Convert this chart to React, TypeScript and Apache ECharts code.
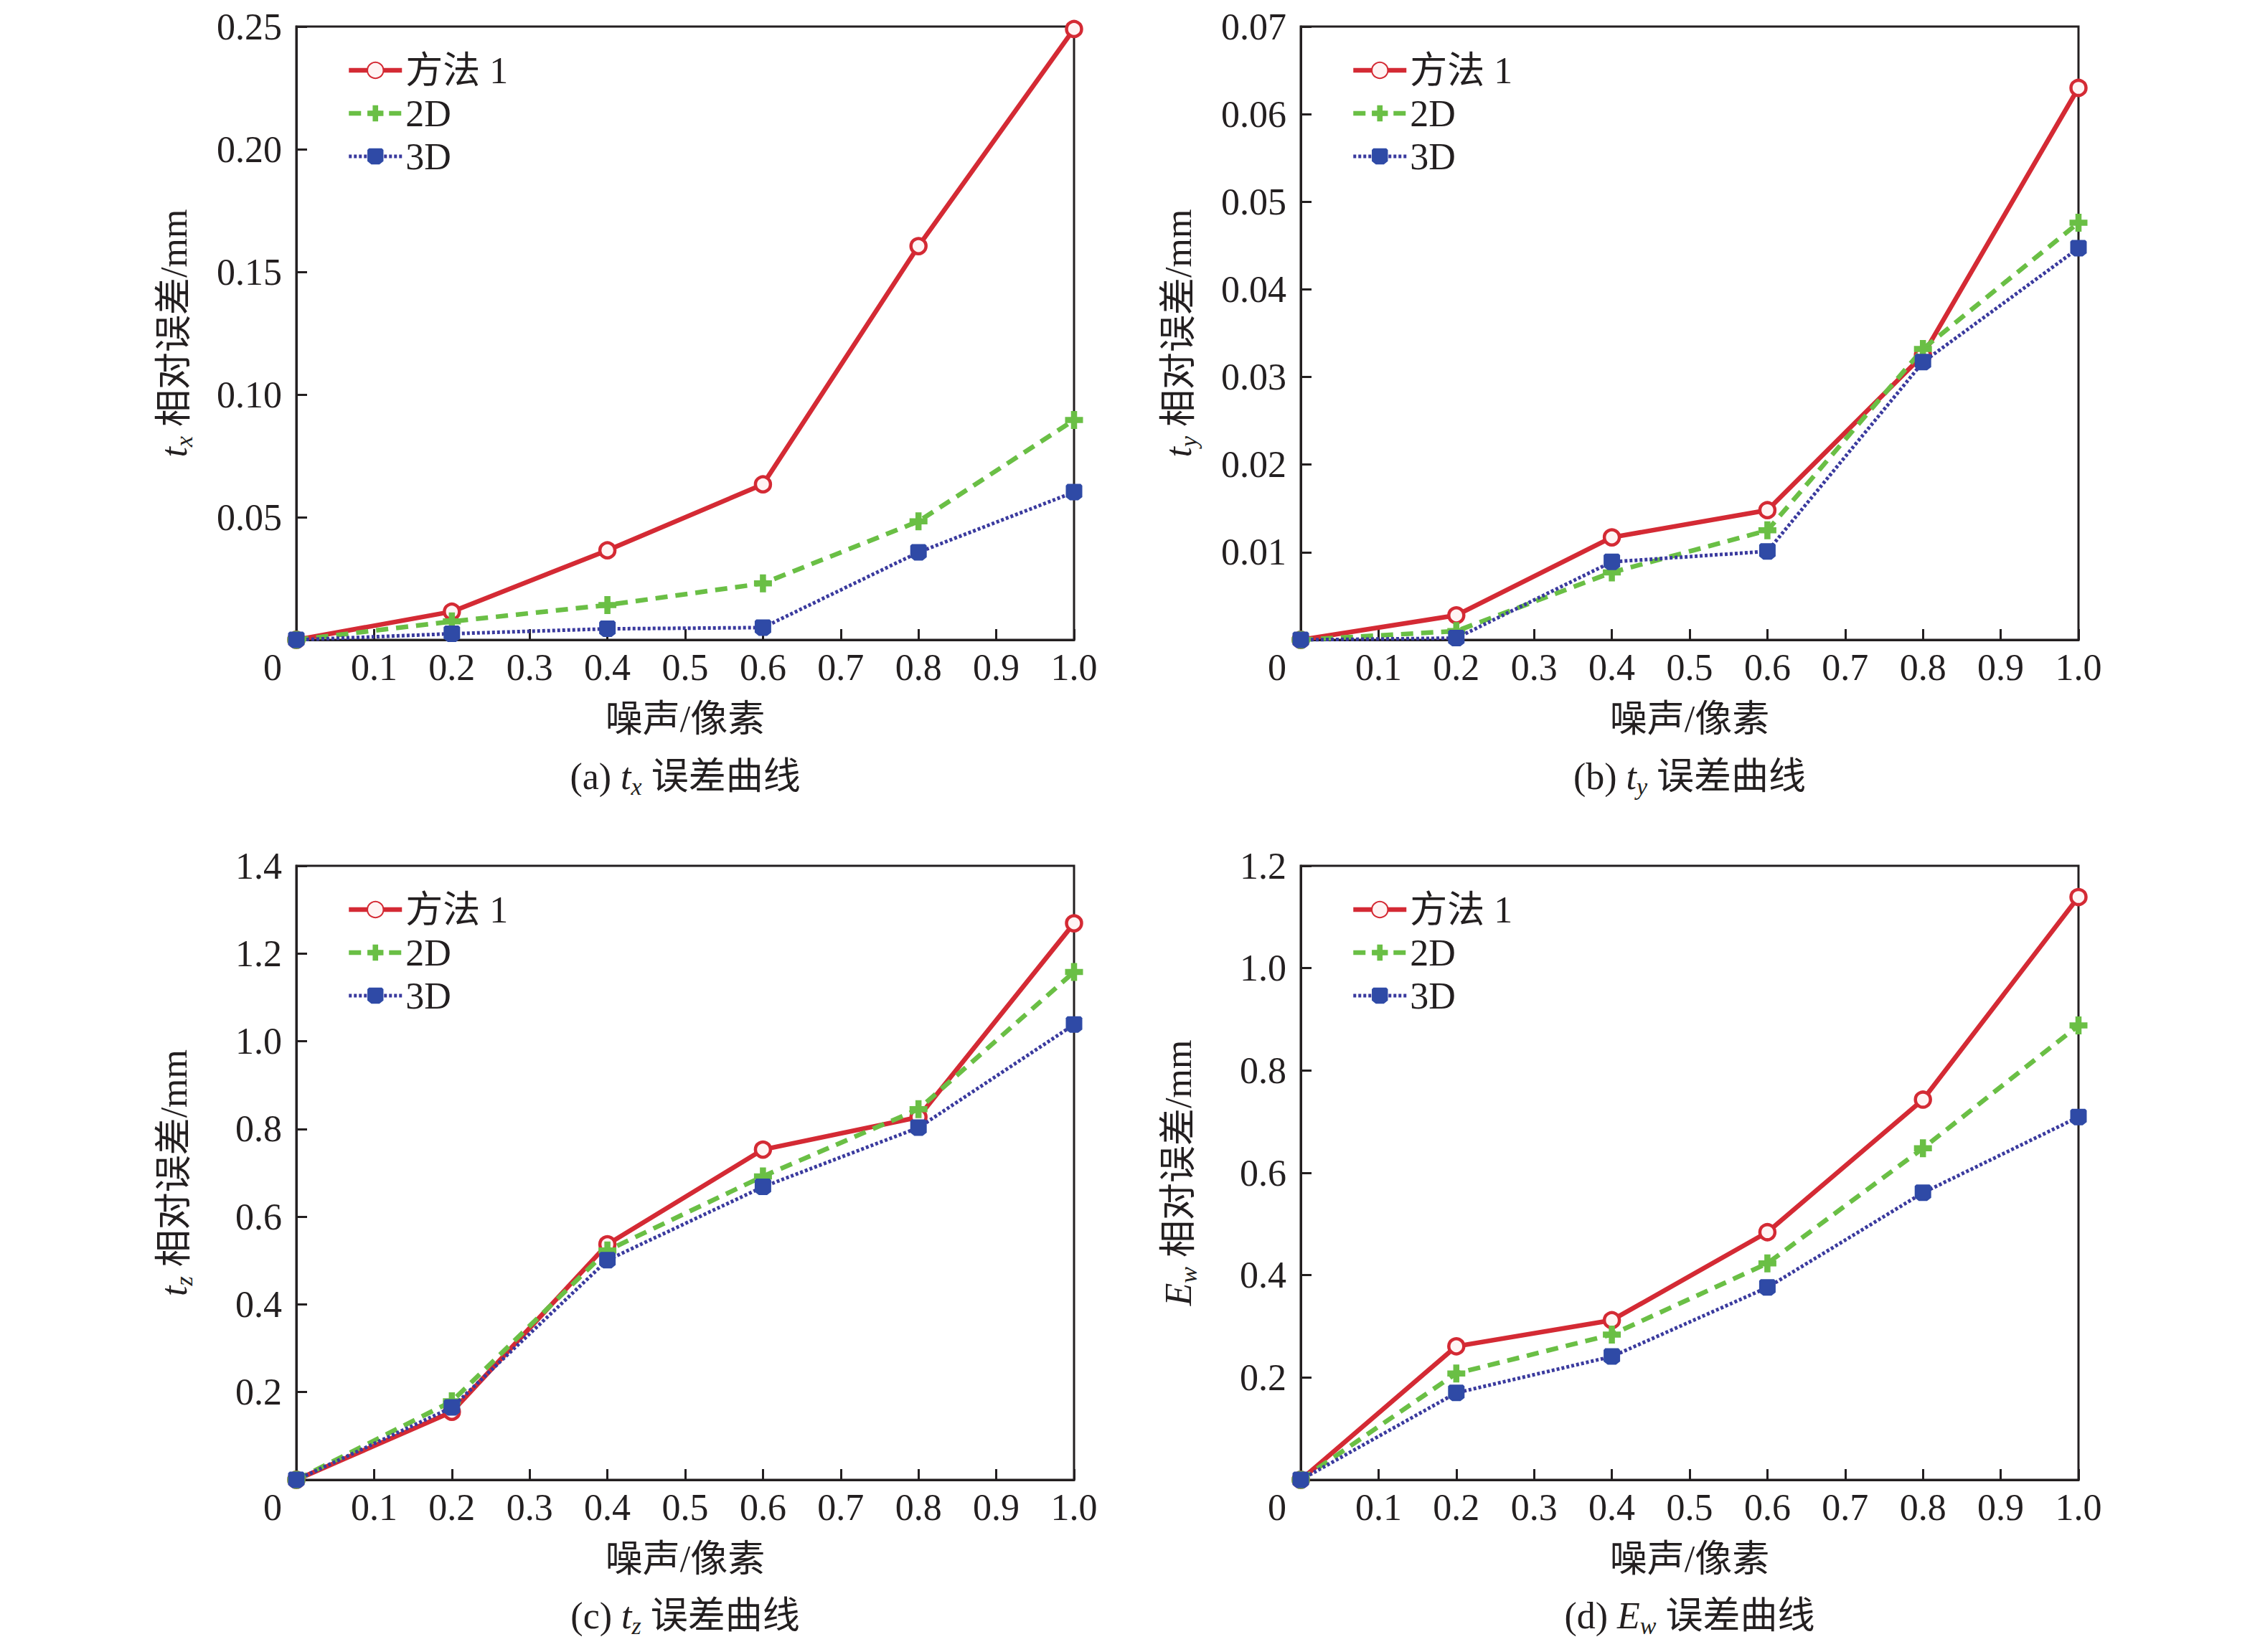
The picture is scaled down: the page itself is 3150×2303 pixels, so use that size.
import React, { useEffect, useRef } from "react";
import * as echarts from "echarts";

// ---- data ----
const xValues = [0, 0.2, 0.4, 0.6, 0.8, 1.0];
const seriesNames = ["方法 1", "2D", "3D"];

// (a) t_x
const txMethod1 = [0, 0.0115, 0.0365, 0.0634, 0.1605, 0.249];
const tx2D = [0, 0.0075, 0.0142, 0.023, 0.0483, 0.0896];
const tx3D = [0, 0.0025, 0.0045, 0.005, 0.0357, 0.0602];

// (b) t_y
const tyMethod1 = [0, 0.0028, 0.0117, 0.0148, 0.0325, 0.063];
const ty2D = [0, 0.001, 0.0077, 0.0125, 0.0332, 0.0476];
const ty3D = [0, 0.0002, 0.0089, 0.0101, 0.0317, 0.0447];

// (c) t_z
const tzMethod1 = [0, 0.155, 0.537, 0.753, 0.827, 1.269];
const tz2D = [0, 0.179, 0.523, 0.692, 0.845, 1.158];
const tz3D = [0, 0.165, 0.501, 0.668, 0.803, 1.038];

// (d) E_w
const ewMethod1 = [0, 0.261, 0.312, 0.484, 0.743, 1.139];
const ew2D = [0, 0.208, 0.284, 0.423, 0.648, 0.888];
const ew3D = [0, 0.17, 0.241, 0.376, 0.561, 0.709];

// axis ranges
const yMaxes = [0.25, 0.07, 1.4, 1.2];
const yIntervals = [0.05, 0.01, 0.2, 0.2];
const yDecimals = [2, 2, 1, 1];

// texts
const yAxisNames = [
  "{i|t}{s|x} 相对误差/mm",
  "{i|t}{s|y} 相对误差/mm",
  "{i|t}{s|z} 相对误差/mm",
  "{i|E}{s|w} 相对误差/mm",
];
const captions = [
  "(a) {i|t}{s|x} 误差曲线",
  "(b) {i|t}{s|y} 误差曲线",
  "(c) {i|t}{s|z} 误差曲线",
  "(d) {i|E}{s|w} 误差曲线",
];
const xAxisName = "噪声/像素";

const panelData = [
  [txMethod1, tx2D, tx3D],
  [tyMethod1, ty2D, ty3D],
  [tzMethod1, tz2D, tz3D],
  [ewMethod1, ew2D, ew3D],
];

// ---- styles / layout ----
const FONT = "'Liberation Serif','Times New Roman','Noto Sans CJK SC',serif";
const INK = "#231f20";
const FS = 52;
const grids = [
  { left: 413, top: 37, width: 1084, height: 855 },
  { left: 1813, top: 37, width: 1084, height: 855 },
  { left: 413, top: 1207, width: 1084, height: 856 },
  { left: 1813, top: 1207, width: 1084, height: 856 },
];

const RED = "#d42a34";
const GREEN = "#6abf45";
const BLUE = "#2f4aa6";
const BLUE_LINE = "#3a3a9e";

const PLUS = "path://M3.3,0 H6.7 V3.3 H10 V6.7 H6.7 V10 H3.3 V6.7 H0 V3.3 H3.3 Z";
const SQUARE = "path://M1,0 H9 L10,1 V8 L7.5,10 H2.5 L0,8 V1 Z";

const richSub = {
  i: { fontStyle: "italic", fontSize: FS, fontFamily: FONT, color: INK, lineHeight: 62 },
  s: {
    fontStyle: "italic",
    fontSize: 34,
    fontFamily: FONT,
    color: INK,
    verticalAlign: "bottom",
    lineHeight: 34,
  },
};

const lineStyles = [
  { color: RED, width: 6.5, type: "solid" },
  { color: GREEN, width: 6.5, type: [17, 11] },
  { color: BLUE_LINE, width: 5, type: [4, 3] },
];

function buildOption() {
  const grid: any[] = [];
  const xAxis: any[] = [];
  const yAxis: any[] = [];
  const series: any[] = [];
  const legend: any[] = [];
  const graphic: any[] = [];

  grids.forEach((g, p) => {
    grid.push({
      ...g,
      show: true,
      borderColor: INK,
      borderWidth: 3,
      backgroundColor: "transparent",
      containLabel: false,
    });
    xAxis.push({
      type: "value",
      gridIndex: p,
      min: 0,
      max: 1,
      interval: 0.1,
      name: xAxisName,
      nameLocation: "middle",
      nameGap: 84,
      nameTextStyle: { fontSize: FS, fontFamily: FONT, color: INK },
      axisLine: { show: true, lineStyle: { color: INK, width: 3 } },
      axisTick: { show: true, inside: true, length: 15, lineStyle: { color: INK, width: 3 } },
      splitLine: { show: false },
      axisLabel: {
        margin: 12,
        fontSize: FS,
        fontFamily: FONT,
        color: INK,
        formatter: (v: number) => (v === 0 ? "{z|0}" : v.toFixed(1)),
        rich: {
          z: { fontSize: FS, fontFamily: FONT, color: INK, padding: [0, 66, 0, 0] },
        },
      },
    });
    yAxis.push({
      type: "value",
      gridIndex: p,
      min: 0,
      max: yMaxes[p],
      interval: yIntervals[p],
      name: yAxisNames[p],
      nameLocation: "middle",
      nameRotate: 90,
      nameGap: 140,
      nameTextStyle: {
        fontSize: FS,
        fontFamily: FONT,
        color: INK,
        lineHeight: 62,
        rich: richSub,
      },
      axisLine: { show: true, lineStyle: { color: INK, width: 3 } },
      axisTick: { show: true, inside: true, length: 15, lineStyle: { color: INK, width: 3 } },
      splitLine: { show: false },
      axisLabel: {
        margin: 20,
        fontSize: FS,
        fontFamily: FONT,
        color: INK,
        formatter: (v: number) => (v === 0 ? "" : v.toFixed(yDecimals[p])),
      },
    });

    const [m1, d2, d3] = panelData[p];
    const toPts = (arr: number[]) => xValues.map((x, i) => [x, arr[i]]);

    series.push({
      name: seriesNames[0],
      type: "line",
      xAxisIndex: p,
      yAxisIndex: p,
      data: toPts(m1),
      symbol: "circle",
      symbolSize: 21,
      showAllSymbol: true,
      clip: false,
      z: 2,
      lineStyle: lineStyles[0],
      itemStyle: { color: "#fff4f4", borderColor: RED, borderWidth: 4.5 },
    });
    series.push({
      name: seriesNames[1],
      type: "line",
      xAxisIndex: p,
      yAxisIndex: p,
      data: toPts(d2),
      symbol: PLUS,
      symbolSize: 25,
      showAllSymbol: true,
      clip: false,
      z: 3,
      lineStyle: lineStyles[1],
      itemStyle: { color: GREEN, borderWidth: 0 },
    });
    series.push({
      name: seriesNames[2],
      type: "line",
      xAxisIndex: p,
      yAxisIndex: p,
      data: toPts(d3),
      symbol: SQUARE,
      symbolSize: 23,
      showAllSymbol: true,
      clip: false,
      z: 4,
      lineStyle: lineStyles[2],
      itemStyle: { color: BLUE, borderWidth: 0 },
    });

    legend.push({
      data: seriesNames.map((n, i) => ({ name: n, lineStyle: { ...lineStyles[i] } })),
      orient: "vertical",
      left: g.left + 70,
      top: g.top + 35,
      itemWidth: 74,
      itemHeight: 28,
      itemGap: 8,
      selectedMode: false,
      padding: 0,
      lineStyle: { width: "inherit", type: "inherit" },
      textStyle: { fontSize: FS, fontFamily: FONT, color: INK, lineHeight: 52 },
    });

    graphic.push({
      type: "text",
      x: g.left + g.width / 2,
      y: p < 2 ? 1082 : 2252,
      style: {
        text: captions[p],
        fontSize: FS,
        fontFamily: FONT,
        fill: INK,
        align: "center",
        verticalAlign: "middle",
        lineHeight: 62,
        rich: richSub,
      },
    });
  });

  return {
    animation: false,
    backgroundColor: "#ffffff",
    grid,
    xAxis,
    yAxis,
    series,
    legend,
    graphic,
  };
}

export default function App() {
  const ref = useRef<HTMLDivElement>(null);
  useEffect(() => {
    if (!ref.current) return;
    const chart = echarts.init(ref.current, undefined, { renderer: "svg" });
    chart.setOption(buildOption() as any);
    return () => chart.dispose();
  }, []);
  return (
    <div
      ref={ref}
      style={{ position: "absolute", left: 0, top: 0, width: 3150, height: 2303, background: "#fff" }}
    />
  );
}
